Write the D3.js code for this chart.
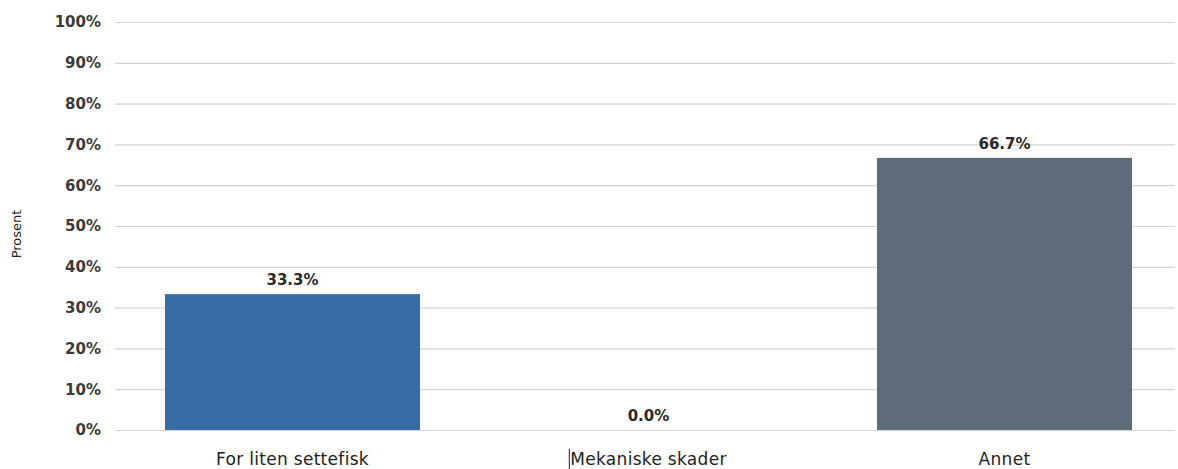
<!DOCTYPE html>
<html><head><meta charset="utf-8">
<script src="https://cdn.jsdelivr.net/npm/d3@7"></script>
<style>body{margin:0;background:#fff;} svg{display:block;}</style>
</head><body>
<svg id="c" width="1178" height="469"></svg>
<script>
const categories = ["For liten settefisk", "Mekaniske skader", "Annet"];
const values = [33.3, 0.0, 66.7];
const barColors = ["#376ca6", "#376ca6", "#5d6b7b"];
const yTicks = [0, 10, 20, 30, 40, 50, 60, 70, 80, 90, 100];
const yTitle = "Prosent";

(function () {
const svg = d3.select("#c");
const mLeft = 115, mRight = 1175, mTop = 22, mBottom = 430;
const x = d3.scaleBand().domain(categories).range([mLeft, 1182]).paddingInner(0.2837).paddingOuter(0.1404);
const y = d3.scaleLinear().domain([0, 100]).range([mBottom, mTop]);
const font = "'DejaVu Sans', Verdana, sans-serif";

// gridlines
svg.append("g").selectAll("line").data(yTicks).join("line")
  .attr("x1", mLeft).attr("x2", mRight)
  .attr("y1", d => y(d) + 0.5).attr("y2", d => y(d) + 0.5)
  .attr("stroke", "#d4d4d4").attr("stroke-width", 1.2);

// y axis labels
const yAxis = d3.axisLeft(y).tickValues(yTicks).tickFormat(d => d + "%").tickSize(0).tickPadding(0);
const ya = svg.append("g").attr("transform", "translate(101,0)").call(yAxis);
ya.select(".domain").remove();
ya.selectAll("text").attr("font-family", font).attr("font-size", 15).attr("font-weight", "bold").attr("fill", "#3a3a3a");

// y title
svg.append("text").attr("transform", "translate(17,234) rotate(-90)")
  .attr("text-anchor", "middle").attr("dominant-baseline", "middle")
  .attr("font-family", font).attr("font-size", 13).attr("fill", "#222").text(yTitle);

// bars
svg.append("g").selectAll("rect").data(categories).join("rect")
  .attr("x", d => x(d)).attr("width", x.bandwidth())
  .attr("y", (d, i) => y(values[i])).attr("height", (d, i) => y(0) - y(values[i]))
  .attr("fill", (d, i) => barColors[i]);

// value labels
svg.append("g").selectAll("text").data(categories).join("text")
  .attr("x", d => x(d) + x.bandwidth() / 2)
  .attr("y", (d, i) => y(values[i]) - 9)
  .attr("text-anchor", "middle").attr("font-family", font).attr("font-size", 15).attr("font-weight", "bold").attr("fill", "#2a2a2a")
  .text((d, i) => values[i].toFixed(1) + "%");

// category labels
const xAxis = d3.axisBottom(x).tickSize(0).tickPadding(0);
const xa = svg.append("g").attr("transform", "translate(0," + mBottom + ")").call(xAxis);
xa.select(".domain").remove();
xa.selectAll("text").attr("y", 35).attr("dy", 0).attr("font-family", font).attr("font-size", 17)
  .attr("letter-spacing", 0.3).attr("fill", "#222");

// cursor mark before second label
const t2 = xa.selectAll("text").filter(d => d === categories[1]).node();
const bb = t2.getBBox();
const cx = x(categories[1]) + x.bandwidth() / 2 + bb.x - 1;
svg.append("line").attr("x1", cx).attr("x2", cx).attr("y1", mBottom + 19).attr("y2", mBottom + 39)
  .attr("stroke", "#222").attr("stroke-width", 1);
})();
</script>
</body></html>
